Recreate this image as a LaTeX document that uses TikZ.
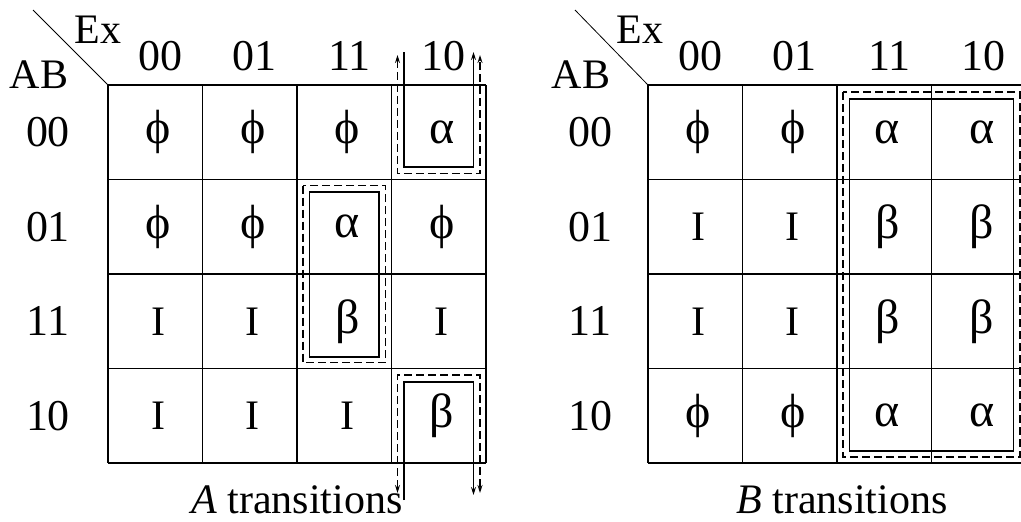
\documentclass[tikz,border=0pt]{standalone}
\usepackage{fontspec}
\setmainfont{Liberation Serif}
\usetikzlibrary{arrows.meta}

\newcommand\gk[1]{{\fontsize{48}{48}\selectfont #1}}

\begin{document}
\begin{tikzpicture}[
  x=1pt, y=-1pt,
  cell/.style={inner sep=0pt, font=\fontsize{42}{42}\selectfont},
  lbl/.style={inner sep=0pt, font=\fontsize{44}{44}\selectfont},
  gridline/.style={line width=1.6pt},
  loopline/.style={line width=1.3pt},
  loopdash/.style={line width=1.3pt, dash pattern=on 8pt off 4pt},
  tip/.style={-{Stealth[length=8pt,width=5pt]}},
  tips/.style={{Stealth[length=8pt,width=5pt]}-{Stealth[length=8pt,width=5pt]}}
]
\useasboundingbox (0,0) rectangle (1021,522);
\clip (0,0) rectangle (1021,522);

% A map
\begin{scope}[shift={(108,85)}]
\foreach \i in {0,...,4} {
  \draw[gridline] (\i*94.5,0) -- (\i*94.5,378);
  \draw[gridline] (0,\i*94.5) -- (378,\i*94.5);
}
\coordinate (A-corner) at (0,0);
\coordinate (A-diag) at (-75,-75);
\draw[line width=0.8pt] (A-diag) -- (A-corner);
\node[cell,anchor=base] (A-ex) at (-10,-42) {Ex};
\node[cell,anchor=base] (A-ab) at (-69,3) {AB};
\foreach \t [count=\c from 0] in {00,01,11,10} {
  \node[lbl,anchor=base] (A-col\c) at ({(\c+0.5)*94.5+5},-15) {\t};
  \node[lbl] (A-row\c) at (-60,{(\c+0.5)*94.5}) {\t};
}
\foreach \row [count=\r from 0] in {{\gk{ϕ},\gk{ϕ},\gk{ϕ},\gk{α}},{\gk{ϕ},\gk{ϕ},\gk{α},\gk{ϕ}},{I,I,\gk{β},I},{I,I,I,\gk{β}}} {
  \foreach \sym [count=\c from 0] in \row
    \node[cell] (A-\r\c) at ({(\c+0.5)*94.5+3},{(\r+0.5)*94.5}) {\sym};
}
% groups
\draw[loopdash] (195,100.5) rectangle (277.5,277.5);
\draw[loopline] (201.5,107) rectangle (271,272);
\draw[loopline,tip] (296,-33) -- (296,82) -- (365.5,82) -- (365.5,-33);
\draw[loopdash,tips] (289.5,-30) -- (289.5,88.5) -- (372,88.5) -- (372,-30);
\draw[loopline,tip] (296,415) -- (296,297) -- (365.5,297) -- (365.5,410);
\draw[loopdash,tips] (289.5,408) -- (289.5,290) -- (372,290) -- (372,408);
\node[cell,anchor=base] (A-cap) at (189,428) {\textit{A} transitions};
\end{scope}

% B map
\begin{scope}[shift={(648,85)}]
\foreach \i in {0,...,4} {
  \draw[gridline] (\i*94.5,0) -- (\i*94.5,378);
  \draw[gridline] (0,\i*94.5) -- (378,\i*94.5);
}
\coordinate (B-corner) at (0,0);
\coordinate (B-diag) at (-73,-75);
\draw[line width=0.8pt] (B-diag) -- (B-corner);
\node[cell,anchor=base] (B-ex) at (-8,-42) {Ex};
\node[cell,anchor=base] (B-ab) at (-67,3) {AB};
\foreach \t [count=\c from 0] in {00,01,11,10} {
  \node[lbl,anchor=base] (B-col\c) at ({(\c+0.5)*94.5+5},-15) {\t};
  \node[lbl] (B-row\c) at (-58,{(\c+0.5)*94.5}) {\t};
}
\foreach \row [count=\r from 0] in {{\gk{ϕ},\gk{ϕ},\gk{α},\gk{α}},{I,I,\gk{β},\gk{β}},{I,I,\gk{β},\gk{β}},{\gk{ϕ},\gk{ϕ},\gk{α},\gk{α}}} {
  \foreach \sym [count=\c from 0] in \row
    \node[cell] (B-\r\c) at ({(\c+0.5)*94.5+3},{(\r+0.5)*94.5}) {\sym};
}
% group
\draw[loopdash] (195,7) rectangle (372,372);
\draw[loopline] (201.5,14) rectangle (365.5,366);
\node[cell,anchor=base] (B-cap) at (194,428) {\textit{B} transitions};
\end{scope}
\end{tikzpicture}
\end{document}
